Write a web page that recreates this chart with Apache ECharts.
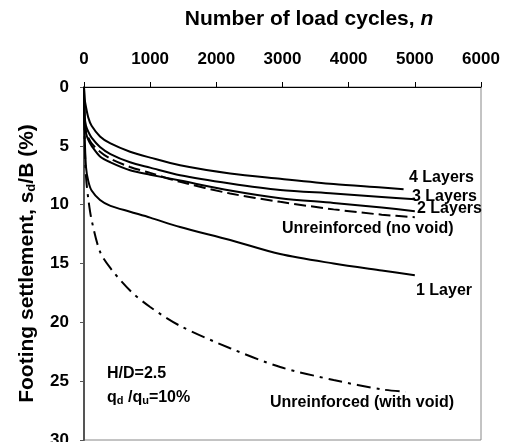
<!DOCTYPE html>
<html>
<head>
<meta charset="utf-8">
<script src="https://cdn.jsdelivr.net/npm/echarts@6/dist/echarts.min.js"></script>
<style>
  html, body { margin: 0; padding: 0; background: #fff; }
  #chart { width: 517px; height: 442px; }
</style>
</head>
<body>
<div id="chart"></div>
<script>
// number of load cycles (x values); 4 Layers and the void curve stop a little short of 5000
const cycles = [0, 10, 30, 65, 115, 242, 400, 696, 1000, 1452, 2209, 2965, 3772, 4500, 5000];
const cycles4 = [0, 10, 30, 65, 115, 242, 400, 696, 1000, 1452, 2209, 2965, 3772, 4500, 4830];
const cyclesVoid = [0, 10, 30, 65, 115, 242, 400, 696, 1000, 1452, 2209, 2965, 3772, 4500, 4860];

// footing settlement sd/B (%)
const layers4 = [0, 1.0, 1.7, 2.6, 3.3, 4.2, 4.8, 5.5, 6.0, 6.65, 7.35, 7.8, 8.25, 8.55, 8.7];
const layers3 = [0, 2.5, 3.3, 3.8, 4.3, 5.1, 5.7, 6.4, 6.85, 7.5, 8.2, 8.75, 9.05, 9.35, 9.55];
const layers2 = [0, 3.0, 3.9, 4.5, 5.0, 5.9, 6.4, 7.07, 7.45, 7.95, 8.8, 9.45, 9.85, 10.25, 10.55];
const noVoid = [0, 3.0, 3.8, 4.3, 4.8, 5.5, 6.1, 6.8, 7.3, 8.06, 9.05, 9.76, 10.4, 10.85, 11.06];
const layer1 = [0, 4.0, 6.8, 8.0, 8.8, 9.6, 10.1, 10.6, 11.1, 11.9, 13.0, 14.2, 15.0, 15.6, 16.0];
const withVoid = [0, 4.5, 7.6, 9.5, 11.3, 14.0, 15.4, 17.3, 18.7, 20.3, 22.2, 23.8, 24.9, 25.7, 25.9];

const xTicks = [0, 1000, 2000, 3000, 4000, 5000, 6000];
const yTicks = [0, 5, 10, 15, 20, 25, 30];

const font = 'Liberation Sans, Arial, sans-serif';

function pairs(xs, ys) {
    return xs.map((x, i) => [x, ys[i]]);
}

function line(name, xs, ys, type) {
    return {
        name: name,
        type: 'line',
        data: pairs(xs, ys),
        showSymbol: false,
        smooth: 0.3,
        lineStyle: { color: '#000', width: 2, type: type },
        animation: false
    };
}

function label(text, x, y) {
    return {
        type: 'text', left: x, top: y,
        style: { text: text, font: 'bold 16px ' + font, fill: '#000' }
    };
}

let myChart = echarts.init(document.getElementById('chart'));
myChart.setOption({
    backgroundColor: '#fff',
    grid: {
        left: 84, top: 87, right: 36, bottom: 2,
        outerBoundsMode: 'none',
        show: true, borderColor: '#888', borderWidth: 1
    },
    title: {
        text: '{a|Number of load cycles, }{b|n}',
        left: 304, top: 4, textAlign: 'center',
        textStyle: {
            rich: {
                a: { fontFamily: font, fontWeight: 'bold', fontSize: 21, color: '#000' },
                b: { fontFamily: font, fontWeight: 'bold', fontStyle: 'italic', fontSize: 21, color: '#000' }
            }
        }
    },
    xAxis: {
        type: 'value', position: 'top',
        min: 0, max: 6000, interval: 1000,
        axisLine: { lineStyle: { color: '#000', width: 1 } },
        axisTick: { show: true, length: 5, lineStyle: { color: '#000' } },
        axisLabel: {
            margin: 19, fontFamily: font, fontWeight: 'bold', fontSize: 17, color: '#000',
            formatter: v => xTicks.includes(v) ? String(v) : ''
        },
        splitLine: { show: false }
    },
    yAxis: {
        type: 'value', inverse: true,
        min: 0, max: 30, interval: 5,
        name: '{a|Footing settlement, s}{s|d}{a|/B (%)}',
        nameLocation: 'middle', nameGap: 46, nameRotate: 90,
        nameTextStyle: {
            rich: {
                a: { fontFamily: font, fontWeight: 'bold', fontSize: 21, color: '#000' },
                s: { fontFamily: font, fontWeight: 'bold', fontSize: 13, color: '#000', verticalAlign: 'bottom', padding: [8, 0, 0, 0] }
            }
        },
        axisLine: { show: true, lineStyle: { color: '#555', width: 2 } },
        axisTick: { show: true, length: 4, lineStyle: { color: '#555' } },
        axisLabel: {
            margin: 15, fontFamily: font, fontWeight: 'bold', fontSize: 17, color: '#000',
            formatter: v => yTicks.includes(v) ? String(v) : ''
        },
        splitLine: { show: false }
    },
    series: [
        line('4 Layers', cycles4, layers4, 'solid'),
        line('3 Layers', cycles, layers3, 'solid'),
        line('2 Layers', cycles, layers2, 'solid'),
        line('Unreinforced (no void)', cycles, noVoid, [12, 5]),
        line('1 Layer', cycles, layer1, 'solid'),
        line('Unreinforced (with void)', cyclesVoid, withVoid, [14, 6, 3, 6])
    ],
    graphic: [
        label('4 Layers', 409, 170),
        label('3 Layers', 412, 189),
        label('2 Layers', 417, 201),
        label('Unreinforced (no void)', 282, 221),
        label('1 Layer', 416, 283),
        label('Unreinforced (with void)', 270, 395),
        label('H/D=2.5', 107, 366),
        {
            type: 'text', left: 107, top: 390,
            style: {
                text: '{a|q}{s|d}{a| /q}{s|u}{a|=10%}',
                rich: {
                    a: { fontFamily: font, fontWeight: 'bold', fontSize: 16, fill: '#000' },
                    s: { fontFamily: font, fontWeight: 'bold', fontSize: 11, fill: '#000', padding: [6, 0, 0, 0] }
                }
            }
        }
    ]
});
</script>
</body>
</html>
